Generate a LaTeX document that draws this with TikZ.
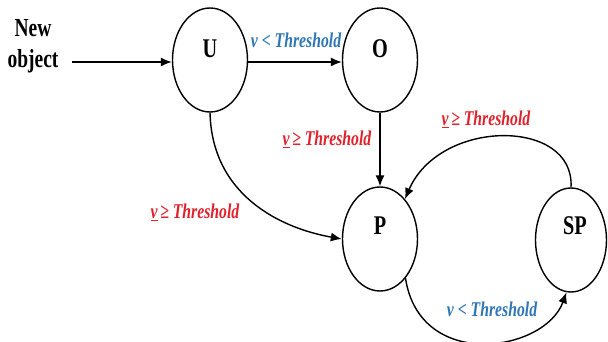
\documentclass[tikz,border=0pt]{standalone}
\usepackage{fontspec}
\setmainfont{Liberation Serif}
\usetikzlibrary{arrows.meta,shapes.geometric}
\definecolor{thrblue}{RGB}{46,117,182}
\definecolor{thrred}{RGB}{224,32,42}
\newcommand{\nx}[2][0.75]{\scalebox{#1}[1]{#2}}
\tikzset{
  state/.style={draw, ellipse, line width=1.4pt, minimum width=75pt, minimum height=104pt, inner sep=0pt},
  slabel/.style={font=\fontsize{27}{29}\selectfont\bfseries, inner sep=0pt},
  conn/.style={line width=1.4pt, -{Latex[length=11pt,width=9pt]}},
  thr/.style={font=\fontsize{21}{23}\selectfont\bfseries\itshape, inner sep=1pt},
}
\begin{document}
\begin{tikzpicture}[x=1pt,y=-1pt]
\useasboundingbox (0,0) rectangle (608,342);
\node[state] (U) at (210,60) {};
\node[state] (O) at (380,60) {};
\node[state] (P) at (380,239) {};
\node[state, minimum width=71pt] (SP) at (571,240) {};
\node[slabel] (Ul) at (210,49) {\nx{U}};
\node[slabel] (Ol) at (380,49) {\nx{O}};
\node[slabel] (Pl) at (380,226) {\nx{P}};
\node[slabel] (SPl) at (575,226) {\nx{SP}};
\node[font=\fontsize{26}{31}\selectfont\bfseries, align=center] (new) at (33,46) {\nx{New}\\\nx{object}};
\coordinate (start) at (72,62);
\draw[conn] (start) -- (U.west |- start);
\draw[conn] (U.east |- start) -- (O.west |- start);
\draw[conn] (O.south) -- (P.north);
\draw[conn] (U.south) .. controls (212,195) and (280,228) .. (P.west);
\draw[conn] (SP.north) .. controls (575,118) and (440,118) .. (P.58);
\draw[conn] (P.-57) .. controls (420,372) and (545,352) .. (SP.-95);
\node[thr, text=thrblue] (t1) at (296,40) {\nx{v < Threshold}};
\node[thr, text=thrred] (t2) at (327,139) {\nx{\underline{v}\,≥ Threshold}};
\node[thr, text=thrred] (t3) at (195,212) {\nx{\underline{v}\,≥ Threshold}};
\node[thr, text=thrred] (t4) at (486,119) {\nx{\underline{v}\,≥ Threshold}};
\node[thr, text=thrblue] (t5) at (492,309) {\nx{v < Threshold}};
\end{tikzpicture}
\end{document}
